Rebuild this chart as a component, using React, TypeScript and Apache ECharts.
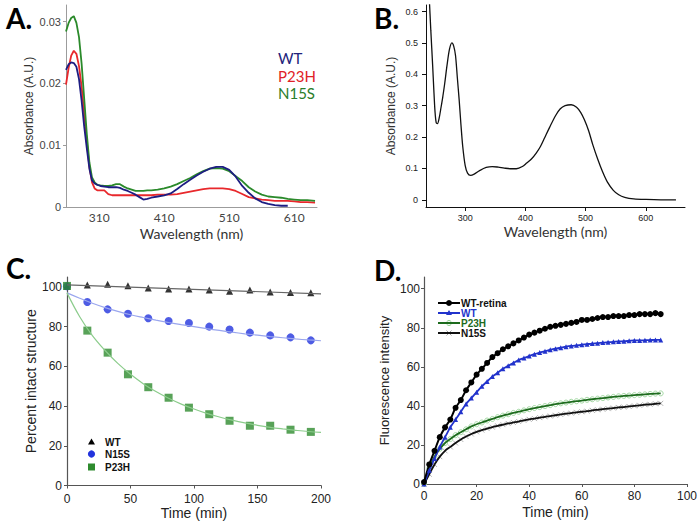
import React, { useEffect, useRef } from "react";
import * as echarts from "echarts";

// ---------- Panel A: absorbance spectra of purified proteins ----------
const aWavelength = [259, 263, 267, 271, 275, 279, 283, 287, 291, 295, 299, 303, 307,
  312, 318, 324, 330, 336, 342, 348, 354, 360, 366, 372, 378, 384, 390,
  400, 410, 420, 430, 440, 450, 460, 470, 480, 490, 500, 510, 520, 530, 540, 550, 560, 570, 580, 590, 600, 610, 620, 630,
  642];
const aWT = [0.0222, 0.0231, 0.0234, 0.0233, 0.0227, 0.0207, 0.0172, 0.013, 0.0095, 0.0062, 0.0043, 0.0038, 0.0036,
  0.0034, 0.0033, 0.0032, 0.0032, 0.0032, 0.0031, 0.0028, 0.0026, 0.0023, 0.002, 0.0016, 0.0012, 0.0013, 0.0015,
  0.0017, 0.0019, 0.0022, 0.0029, 0.0037, 0.0044, 0.0051, 0.0057, 0.0062, 0.0065, 0.0065, 0.006, 0.0049, 0.0034, 0.0023, 0.0014, 0.0008, 0.0005, 0.0003, 0.0002, 0.0002, null, null, null,
  null];
const aP23H = [0.0198, 0.0225, 0.0245, 0.0253, 0.0248, 0.0228, 0.0195, 0.015, 0.0105, 0.0065, 0.004, 0.003, 0.0027,
  0.0027, 0.0027, 0.0021, 0.0019, 0.0019, 0.0019, 0.0019, 0.0019, 0.0019, 0.0019, 0.0019, 0.0019, 0.0019, 0.0019,
  0.002, 0.002, 0.002, 0.0021, 0.0023, 0.0025, 0.0027, 0.0029, 0.003, 0.003, 0.003, 0.0029, 0.0026, 0.0021, 0.0016, 0.0014, 0.0012, 0.0011, 0.001, 0.001, 0.001, 0.0009, 0.0008, 0.0008,
  0.0007];
const aN15S = [0.0284, 0.0298, 0.0306, 0.0309, 0.0298, 0.0275, 0.0232, 0.0175, 0.0118, 0.0072, 0.0048, 0.004, 0.0036,
  0.0035, 0.0034, 0.0034, 0.0035, 0.0037, 0.0037, 0.0033, 0.003, 0.0028, 0.0026, 0.0026, 0.0026, 0.0027, 0.0027,
  0.0028, 0.003, 0.0033, 0.0037, 0.0042, 0.0047, 0.0053, 0.0058, 0.0062, 0.0063, 0.0062, 0.0058, 0.005, 0.0042, 0.0032, 0.0025, 0.002, 0.0017, 0.0016, 0.0015, 0.0013, 0.0012, 0.0011, 0.0011,
  0.001];
const aYTicks = [0, 0.01, 0.02, 0.03];
const aXTicks = [310, 410, 510, 610];

// ---------- Panel B: absorbance spectrum ----------
const bWavelength = [240, 243, 246, 248, 250, 252, 254, 257, 260, 263, 266, 270, 274, 278, 281, 284, 287, 290, 293, 296,
  300, 304, 309, 315, 324, 335, 345, 355, 365, 375, 385, 395, 402, 410, 418, 425, 432, 440, 450, 458,
  466, 476, 485, 492, 498, 505, 512, 520, 528, 536, 546, 555, 565, 580, 600, 625, 650];
const bAbsorbance = [0.66, 0.54, 0.43, 0.35, 0.28, 0.245, 0.243, 0.262, 0.295, 0.33, 0.37, 0.43, 0.48, 0.5, 0.49, 0.46, 0.39, 0.32, 0.24, 0.17,
  0.11, 0.085, 0.078, 0.082, 0.093, 0.103, 0.106, 0.104, 0.101, 0.099, 0.099, 0.106, 0.117, 0.13, 0.149, 0.17, 0.198, 0.23, 0.268, 0.29,
  0.3, 0.303, 0.295, 0.278, 0.255, 0.22, 0.175, 0.13, 0.09, 0.057, 0.03, 0.016, 0.008, 0.003, 0.001, 0, 0];
const bYTicks = [0, 0.1, 0.2, 0.3, 0.4, 0.5, 0.6];
const bXTicks = [300, 400, 500, 600];

// ---------- Panel C: percent intact structure ----------
const cTime = [0, 16, 32, 48, 64, 80, 96, 112, 128, 144, 160, 176, 192];
const cWT = [100.4, 101, 101.3, 100.6, 99.5, 99, 99, 98.4, 97.8, 98.4, 97.5, 97.2, 97.1];
const cN15S = [100.3, 92.4, 88.7, 86.5, 84.2, 82.8, 81.8, 80, 78.6, 77, 75.6, 74.6, 73.1];
const cP23H = [100.5, 78, 66.9, 56, 49.5, 44.2, 39.2, 35.9, 32.6, 30.1, 30.1, 28.1, 27];
const cFitWTTime = [0, 200];
const cFitWT = [101, 96.5];
const cFitTime = [0, 10, 20, 30, 40, 50, 60, 70, 80, 90, 100, 110, 120, 130, 140, 150, 160, 170, 180, 190, 200];
const cFitN15S = [97, 94.3, 91.8, 89.6, 87.7, 86, 84.6, 83.3, 82.1, 81, 80, 79, 78.1, 77.2, 76.4, 75.7, 75, 74.4, 73.8, 73.3, 72.9];
const cFitP23H = [97, 85, 75.5, 68, 61.5, 56, 51.3, 47.3, 43.9, 41, 38.5, 36.3, 34.5, 32.9, 31.5, 30.3, 29.3, 28.5, 27.8, 27.2, 26.8];
const cYTicks = [0, 20, 40, 60, 80, 100];

// ---------- Panel D: fluorescence intensity ----------
const dTime = [0, 2, 4, 6, 8, 10, 12, 14, 16, 18, 20, 22, 24, 26, 28, 30, 32, 34, 36, 38, 40, 42, 44, 46, 48, 50,
  52, 54, 56, 58, 60, 62, 64, 66, 68, 70, 72, 74, 76, 78, 80, 82, 84, 86, 88, 90];
const dWTRetina = [1, 10, 17, 24, 29, 33, 39, 43, 48, 52, 56, 59, 62, 65, 67, 69, 70.5, 72, 73.5, 75, 76.5, 77.5, 78.5, 79.5, 80.5, 81,
  81.5, 82, 82.5, 83, 84, 84, 84.5, 85, 85.5, 85.5, 86, 86, 86, 86.5, 86.5, 87, 87, 87, 87.5, 87];
const dWT = [0, 7, 13, 19, 24, 29, 33, 37, 41, 44, 47, 50, 52.5, 55, 57, 59, 60.5, 62, 63.5, 64.5, 65.5, 66.5, 67.3, 68, 68.7, 69.3,
  69.8, 70.3, 70.7, 71, 71.3, 71.6, 71.9, 72.1, 72.4, 72.6, 72.8, 73, 73.1, 73.3, 73.5, 73.5, 73.6, 73.7, 73.8, 73.8];
const dP23H = [0, 8, 14, 18, 21, 23, 25, 26.5, 28, 29.5, 30.6, 31.5, 32.5, 33.3, 34.2, 35, 35.7, 36.4, 37, 37.7, 38.3, 38.9, 39.4, 39.9, 40.4, 40.9,
  41.3, 41.7, 42.1, 42.4, 42.7, 43.1, 43.4, 43.7, 44, 44.3, 44.6, 44.9, 45.1, 45.3, 45.5, 45.7, 45.9, 46.1, 46.3, 46.4];
const dN15S = [0, 5, 10, 14, 17, 19, 21, 22.8, 24.3, 25.6, 26.7, 27.6, 28.4, 29.1, 29.8, 30.4, 31, 31.5, 32, 32.6, 33.1, 33.5, 34, 34.4, 34.8, 35.2,
  35.6, 36, 36.3, 36.7, 37, 37.3, 37.7, 38, 38.3, 38.6, 38.9, 39.2, 39.4, 39.7, 40, 40.3, 40.6, 40.8, 41.1, 41.3];
const dYTicks = [0, 20, 40, 60, 80, 100];

const zip = (xs: number[], ys: (number | null)[]) => xs.map((x, i) => [x, ys[i]]);

const ARIAL = "Liberation Sans, Arial, sans-serif";
const CAL = "Lato, sans-serif";
const X_PATH = "path://M0,0L10,10M10,0L0,10";

function buildOption() {
  const grid = [
    { left: 66, top: 5, width: 251, height: 202 },
    { left: 426, top: 5, width: 259, height: 202 },
    { left: 67, top: 277, width: 254, height: 208.5 },
    { left: 424, top: 277, width: 264, height: 207 },
  ];

  const xAxis: any[] = [
    {
      gridIndex: 0, type: "value", min: 259, max: 645,
      axisLine: { show: true, onZero: false, lineStyle: { color: "#9c9c9c", width: 1 } },
      axisTick: { show: false },
      axisLabel: { customValues: aXTicks, color: "#444", fontFamily: CAL, fontSize: 12, margin: 4 },
      splitLine: { show: false },
      name: "Wavelength (nm)", nameLocation: "middle", nameGap: 19,
      nameTextStyle: { fontFamily: CAL, fontSize: 14, color: "#333" },
    },
    {
      gridIndex: 1, type: "value", min: 235, max: 665,
      axisLine: { show: true, onZero: false, lineStyle: { color: "#111", width: 1 } },
      axisTick: { show: true, customValues: bXTicks, length: 4, lineStyle: { color: "#111" } },
      axisLabel: { customValues: bXTicks, color: "#222", fontFamily: ARIAL, fontSize: 9, margin: 6 },
      splitLine: { show: false },
      name: "Wavelength (nm)", nameLocation: "middle", nameGap: 17,
      nameTextStyle: { fontFamily: CAL, fontSize: 14, color: "#333" },
    },
    {
      gridIndex: 2, type: "value", min: 0, max: 200, interval: 50,
      axisLine: { show: true, onZero: false, lineStyle: { color: "#555", width: 1.2 } },
      axisTick: { show: true, length: 3, lineStyle: { color: "#555" } },
      axisLabel: { color: "#222", fontFamily: ARIAL, fontSize: 12, margin: 7 },
      splitLine: { show: false },
      name: "Time (min)", nameLocation: "middle", nameGap: 20,
      nameTextStyle: { fontFamily: ARIAL, fontSize: 14, color: "#222" },
    },
    {
      gridIndex: 3, type: "value", min: 0, max: 100, interval: 20,
      axisLine: { show: true, onZero: false, lineStyle: { color: "#555", width: 1.2 } },
      axisTick: { show: true, length: 3, lineStyle: { color: "#555" } },
      axisLabel: { color: "#222", fontFamily: ARIAL, fontSize: 12, margin: 6 },
      splitLine: { show: false },
      name: "Time (min)", nameLocation: "middle", nameGap: 21,
      nameTextStyle: { fontFamily: ARIAL, fontSize: 14, color: "#222" },
    },
  ];

  const yAxis: any[] = [
    {
      gridIndex: 0, type: "value", min: 0, max: 0.0327,
      axisLine: { show: true, onZero: false, lineStyle: { color: "#9c9c9c", width: 1 } },
      axisTick: { show: true, customValues: aYTicks, length: 3, lineStyle: { color: "#9c9c9c" } },
      axisLabel: {
        customValues: aYTicks, color: "#444", fontFamily: ARIAL, fontSize: 11, margin: 5,
        formatter: (v: number) => (v === 0 ? "0" : v.toFixed(2)),
      },
      splitLine: { show: false },
      name: "Absorbance (A.U.)", nameLocation: "middle", nameGap: 31,
      nameTextStyle: { fontFamily: ARIAL, fontSize: 12, color: "#333" },
    },
    {
      gridIndex: 1, type: "value", min: -0.023, max: 0.621,
      axisLine: { show: true, onZero: false, lineStyle: { color: "#111", width: 1 } },
      axisTick: { show: true, customValues: bYTicks, length: 4, lineStyle: { color: "#111" } },
      axisLabel: {
        customValues: bYTicks, color: "#222", fontFamily: ARIAL, fontSize: 9, margin: 8,
        formatter: (v: number) => (v === 0 ? "0" : v.toFixed(1)),
      },
      splitLine: { show: false },
      name: "Absorbance (A.U.)", nameLocation: "middle", nameGap: 29,
      nameTextStyle: { fontFamily: ARIAL, fontSize: 12, color: "#333" },
    },
    {
      gridIndex: 2, type: "value", min: 0, max: 105,
      axisLine: { show: true, onZero: false, lineStyle: { color: "#555", width: 1.2 } },
      axisTick: { show: true, customValues: cYTicks, length: 3, lineStyle: { color: "#555" } },
      axisLabel: { customValues: cYTicks, color: "#222", fontFamily: ARIAL, fontSize: 12, margin: 5 },
      splitLine: { show: false },
      name: "Percent intact structure", nameLocation: "middle", nameGap: 27,
      nameTextStyle: { fontFamily: ARIAL, fontSize: 14, color: "#222" },
    },
    {
      gridIndex: 3, type: "value", min: 0, max: 106,
      axisLine: { show: true, onZero: false, lineStyle: { color: "#555", width: 1.2 } },
      axisTick: { show: true, customValues: dYTicks, length: 3, lineStyle: { color: "#555" } },
      axisLabel: { customValues: dYTicks, color: "#222", fontFamily: ARIAL, fontSize: 12, margin: 4 },
      splitLine: { show: false },
      name: "Fluorescence intensity", nameLocation: "middle", nameGap: 33,
      nameTextStyle: { fontFamily: ARIAL, fontSize: 13, color: "#222" },
    },
  ];

  const aLine = (name: string, ys: (number | null)[], color: string) => ({
    name, type: "line", xAxisIndex: 0, yAxisIndex: 0, data: zip(aWavelength, ys),
    showSymbol: false, symbol: "none", connectNulls: false,
    lineStyle: { color, width: 1.8 },
  });

  const series: any[] = [
    aLine("P23H", aP23H, "#e8282c"),
    aLine("N15S", aN15S, "#2b8a2b"),
    aLine("WT", aWT, "#1d1d82"),
    {
      name: "Spectrum", type: "line", xAxisIndex: 1, yAxisIndex: 1, data: zip(bWavelength, bAbsorbance),
      symbol: "none", smooth: 0.3, clip: true, lineStyle: { color: "#111", width: 1.3 },
    },
    // Panel C fits
    { name: "WT fit", type: "line", xAxisIndex: 2, yAxisIndex: 2, data: zip(cFitWTTime, cFitWT), symbol: "none", lineStyle: { color: "#666", width: 1.2 } },
    { name: "N15S fit", type: "line", xAxisIndex: 2, yAxisIndex: 2, data: zip(cFitTime, cFitN15S), symbol: "none", smooth: 0.4, lineStyle: { color: "#9aa6ee", width: 1.2 } },
    { name: "P23H fit", type: "line", xAxisIndex: 2, yAxisIndex: 2, data: zip(cFitTime, cFitP23H), symbol: "none", smooth: 0.4, lineStyle: { color: "#8ccc8c", width: 1.2 } },
    // Panel C points
    { name: "WT", type: "scatter", xAxisIndex: 2, yAxisIndex: 2, data: zip(cTime, cWT), symbol: "triangle", symbolSize: 7, itemStyle: { color: "#000" } },
    { name: "N15S", type: "scatter", xAxisIndex: 2, yAxisIndex: 2, data: zip(cTime, cN15S), symbol: "circle", symbolSize: 8, itemStyle: { color: "#2233dd" } },
    { name: "P23H", type: "scatter", xAxisIndex: 2, yAxisIndex: 2, data: zip(cTime, cP23H), symbol: "rect", symbolSize: 8, itemStyle: { color: "#2e8b2e" } },
    // Panel D markers (drawn beneath their fitted lines)
    {
      name: "N15S pts", type: "scatter", xAxisIndex: 3, yAxisIndex: 3, data: zip(dTime, dN15S),
      symbol: X_PATH, symbolSize: 5,
      itemStyle: { color: "rgba(0,0,0,0)", borderColor: "#a0a0a0", borderWidth: 1 },
    },
    {
      name: "P23H pts", type: "scatter", xAxisIndex: 3, yAxisIndex: 3, data: zip(dTime, dP23H),
      symbol: "circle", symbolSize: 5,
      itemStyle: { color: "#ffffff", borderColor: "#8ed08e", borderWidth: 1 },
    },
    {
      name: "N15S", type: "line", xAxisIndex: 3, yAxisIndex: 3, data: zip(dTime, dN15S), smooth: 0.3,
      symbol: "none", lineStyle: { color: "#111", width: 1.8 },
    },
    {
      name: "P23H", type: "line", xAxisIndex: 3, yAxisIndex: 3, data: zip(dTime, dP23H), smooth: 0.3,
      symbol: "none", lineStyle: { color: "#1d6b1d", width: 1.8 },
    },
    {
      name: "WT", type: "line", xAxisIndex: 3, yAxisIndex: 3, data: zip(dTime, dWT), smooth: 0.3,
      symbol: "triangle", symbolSize: 5, showSymbol: true,
      itemStyle: { color: "#2233cc" },
      lineStyle: { color: "#2233cc", width: 1.8 },
    },
    {
      name: "WT-retina", type: "line", xAxisIndex: 3, yAxisIndex: 3, data: zip(dTime, dWTRetina), smooth: 0.3,
      symbol: "circle", symbolSize: 6, showSymbol: true,
      itemStyle: { color: "#000" },
      lineStyle: { color: "#000", width: 2 },
    },
  ];

  const letter = (t: string, x: number, y: number) => ({
    type: "text", x, y,
    style: { text: t, font: "bold 28px Lato, sans-serif", fill: "#000", align: "left", verticalAlign: "top" },
  });
  const label = (t: string, x: number, y: number, color: string, font: string) => ({
    type: "text", x, y,
    style: { text: t, font, fill: color, align: "left", verticalAlign: "middle" },
  });
  const cFont = "bold 10px Liberation Sans, Arial, sans-serif";
  const dFont = "bold 10px Liberation Sans, Arial, sans-serif";
  const dRows = [303, 313, 323, 333];

  const graphic: any[] = [
    letter("A.", 6, 4),
    letter("B.", 374, 4),
    letter("C.", 6, 254),
    letter("D.", 374, 256),
    // Panel A legend
    label("WT", 278, 58, "#22227a", "15px Lato, sans-serif"),
    label("P23H", 278, 76, "#e02226", "15px Lato, sans-serif"),
    label("N15S", 278, 93, "#2a7d2a", "15px Lato, sans-serif"),
    // Panel C legend
    { type: "polygon", shape: { points: [[91.5, 438.5], [88, 444.5], [95, 444.5]] }, style: { fill: "#000" } },
    { type: "circle", shape: { cx: 91.5, cy: 454, r: 3.6 }, style: { fill: "#2233dd" } },
    { type: "rect", shape: { x: 88, y: 463.5, width: 7, height: 7 }, style: { fill: "#2e8b2e" } },
    label("WT", 105, 442, "#111", cFont),
    label("N15S", 105, 454, "#111", cFont),
    label("P23H", 105, 467, "#111", cFont),
    // Panel D legend
    { type: "line", shape: { x1: 438, y1: dRows[0], x2: 460, y2: dRows[0] }, style: { stroke: "#000", lineWidth: 2 } },
    { type: "circle", shape: { cx: 449, cy: dRows[0], r: 3 }, style: { fill: "#000" } },
    { type: "line", shape: { x1: 438, y1: dRows[1], x2: 460, y2: dRows[1] }, style: { stroke: "#2233cc", lineWidth: 2 } },
    { type: "polygon", shape: { points: [[449, dRows[1] - 3], [446, dRows[1] + 2], [452, dRows[1] + 2]] }, style: { fill: "#2233cc" } },
    { type: "circle", shape: { cx: 449, cy: dRows[2], r: 2.5 }, style: { fill: "#fff", stroke: "#8ed08e", lineWidth: 1 } },
    { type: "line", shape: { x1: 438, y1: dRows[2], x2: 460, y2: dRows[2] }, style: { stroke: "#1d6b1d", lineWidth: 2 } },
    { type: "line", shape: { x1: 446.5, y1: dRows[3] - 2.5, x2: 451.5, y2: dRows[3] + 2.5 }, style: { stroke: "#a0a0a0", lineWidth: 1 } },
    { type: "line", shape: { x1: 451.5, y1: dRows[3] - 2.5, x2: 446.5, y2: dRows[3] + 2.5 }, style: { stroke: "#a0a0a0", lineWidth: 1 } },
    { type: "line", shape: { x1: 438, y1: dRows[3], x2: 460, y2: dRows[3] }, style: { stroke: "#111", lineWidth: 2 } },
    label("WT-retina", 461, dRows[0], "#111", dFont),
    label("WT", 461, dRows[1], "#2233cc", dFont),
    label("P23H", 461, dRows[2], "#1d6b1d", dFont),
    label("N15S", 461, dRows[3], "#111", dFont),
  ];

  return {
    animation: false,
    backgroundColor: "#ffffff",
    grid, xAxis, yAxis, series, graphic,
  };
}

export default function App() {
  const ref = useRef<HTMLDivElement>(null);
  useEffect(() => {
    if (!ref.current) return;
    const chart = echarts.init(ref.current, null, { renderer: "svg" });
    chart.setOption(buildOption() as any);
    return () => chart.dispose();
  }, []);
  return (
    <div
      ref={ref}
      style={{ position: "fixed", left: 0, top: 0, width: 700, height: 524, background: "#fff" }}
    />
  );
}
